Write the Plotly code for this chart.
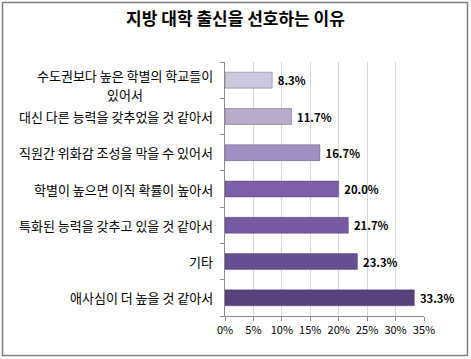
import plotly.graph_objects as go

categories = [
    "수도권보다 높은 학별의 학교들이<br>있어서",
    "대신 다른 능력을 갖추었을 것 같아서",
    "직원간 위화감 조성을 막을 수 있어서",
    "학별이 높으면 이직 확률이 높아서",
    "특화된 능력을 갖추고 있을 것 같아서",
    "기타",
    "애사심이 더 높을 것 같아서",
]
values = [8.3, 11.7, 16.7, 20.0, 21.7, 23.3, 33.3]
colors = ["#cdc9dd", "#b8accd", "#a090bf", "#7c60a8", "#745aa0", "#664f90", "#56437a"]
x_ticks = [0, 5, 10, 15, 20, 25, 30, 35]
x_tick_labels = ["0%", "5%", "10%", "15%", "20%", "25%", "30%", "35%"]
title = "지방 대학 출신을 선호하는 이유"

W, H = 471, 359
L, R, T, B = 225, 47, 62, 43
font = "Noto Sans CJK KR, Noto Sans, sans-serif"
label_size = 13
line_step = 19      # px between wrapped label lines
wrap_offset = 5     # first wrapped line sits this many px above the bar centre

idx = list(range(len(categories)))

fig = go.Figure(go.Bar(
    x=values, y=idx, orientation="h",
    marker=dict(color=colors, line=dict(color="rgba(60,40,90,0.35)", width=1)),
    width=0.44,
    text=[f" {v:.1f}%" for v in values],
    textposition="outside",
    textfont=dict(family=font, size=12, color="#000000", weight="bold"),
    cliponaxis=False,
    hoverinfo="skip",
))

for i, c in enumerate(categories):
    lines = c.split("<br>")
    n = len(lines)
    est_w = sum(label_size * (0.3 if ch == " " else 0.92) for ch in lines[0])
    for j, line in enumerate(lines):
        ys = 0 if n == 1 else wrap_offset - j * line_step
        fig.add_annotation(
            x=0, xref="paper", y=i, yref="y",
            xshift=-10 if j == 0 else -10 - est_w / 2,
            yshift=ys,
            text=line, showarrow=False,
            xanchor="right" if j == 0 else "center",
            yanchor="middle",
            font=dict(family=font, size=label_size, color="#000000"),
        )

pw = W - L - R
ph = H - T - B
fig.add_shape(
    type="rect", xref="paper", yref="paper",
    x0=(2.5 - L) / pw, x1=(467.5 - L) / pw,
    y0=1 - (2.5 - T) / ph, y1=1 - (355.5 - T) / ph,
    line=dict(color="#7f7f7f", width=1.5), fillcolor="rgba(0,0,0,0)", layer="below",
)

fig.update_layout(
    width=W, height=H,
    margin=dict(l=L, r=R, t=T, b=B, autoexpand=False),
    paper_bgcolor="white", plot_bgcolor="white",
    showlegend=False,
    title=dict(text=title, x=0.5, xref="container", xanchor="center",
               y=1 - 19 / H, yref="container", yanchor="middle",
               font=dict(family=font, size=17, color="#000000", weight="bold")),
    xaxis=dict(
        range=[0, 35], tickvals=x_ticks, ticktext=x_tick_labels,
        showgrid=True, gridcolor="#d9d9d9", gridwidth=1,
        showline=True, linecolor="#8a8a8a", linewidth=1,
        ticks="outside", ticklen=4, tickcolor="#8a8a8a",
        tickfont=dict(family=font, size=11, color="#000000"),
        zeroline=False, fixedrange=True, automargin=False,
    ),
    yaxis=dict(
        range=[6.5, -0.5],
        tickvals=[i - 0.5 for i in range(len(categories) + 1)],
        ticktext=[""] * (len(categories) + 1),
        showgrid=False, showline=True, linecolor="#8a8a8a", linewidth=1,
        ticks="outside", ticklen=4, tickcolor="#8a8a8a",
        zeroline=False, fixedrange=True, automargin=False,
    ),
    bargap=0.56,
)

fig.write_html(
    "out.html",
    config={"displayModeBar": False},
    post_script="document.body.style.margin='0';document.body.style.overflow='hidden';",
)
